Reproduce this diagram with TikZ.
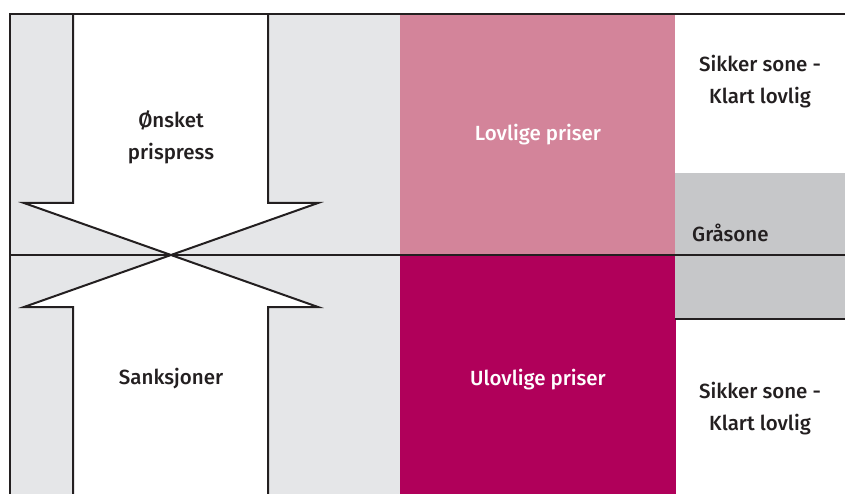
\documentclass[tikz,border=0pt]{standalone}
\usepackage{fontspec}
\setmainfont{Fira Sans}[BoldFont={Fira Sans Medium}]
\definecolor{lightbg}{HTML}{E5E6E8}
\definecolor{rosa}{HTML}{D3849A}
\definecolor{magenta}{HTML}{B0005A}
\definecolor{grazone}{HTML}{C6C7C9}
\definecolor{ink}{HTML}{231F20}
\tikzset{
  lbl/.style={font=\bfseries\fontsize{20.5}{32}\selectfont, text=ink, align=center, inner sep=0pt},
  wlbl/.style={lbl, text=white},
  frame/.style={draw=ink, line width=2pt},
  bigarrow/.style={draw=ink, line width=2pt, fill=white, line join=miter},
}
\begin{document}
\begin{tikzpicture}[x=1pt,y=-1pt]
\useasboundingbox (0,0) rectangle (845,494);
\fill[white] (0,0) rectangle (845,494);
% backgrounds
\fill[lightbg] (10,14) rectangle (400,494);
\fill[rosa] (400,14) rectangle (675,255);
\fill[magenta] (400,255) rectangle (676,494);
\fill[grazone] (675,173) rectangle (845,319);
% arrows
\draw[bigarrow] (73,14) -- (73,203) -- (24,203) -- (171,255) -- (318,203) -- (268,203) -- (268,14);
\draw[bigarrow] (73,494) -- (73,307) -- (24,307) -- (171,255) -- (318,307) -- (268,307) -- (268,494);
% frame lines
\coordinate (tl) at (10,14);
\coordinate (tr) at (845,14);
\coordinate (bl) at (10,494);
\coordinate (ml) at (10,255);
\coordinate (mr) at (845,255);
\coordinate (gl) at (675,319);
\coordinate (gr) at (845,319);
\draw[frame] (bl) -- (tl) -- (tr);
\draw[frame] (ml) -- (mr);
\draw[draw=ink, line width=1.2pt] (gl) -- (gr);
% labels
\node[lbl] (onsket) at (171,137) {Ønsket\\prispress};
\node[lbl] (sank) at (171,379) {Sanksjoner};
\node[wlbl] (lov) at (538,135) {Lovlige priser};
\node[wlbl] (ulov) at (538,380) {Ulovlige priser};
\node[lbl] (sik1) at (760,82) {Sikker sone -\\Klart lovlig};
\node[lbl, anchor=west] (gra) at (692,233) {Gråsone};
\node[lbl] (sik2) at (760,409) {Sikker sone -\\Klart lovlig};
\end{tikzpicture}
\end{document}
